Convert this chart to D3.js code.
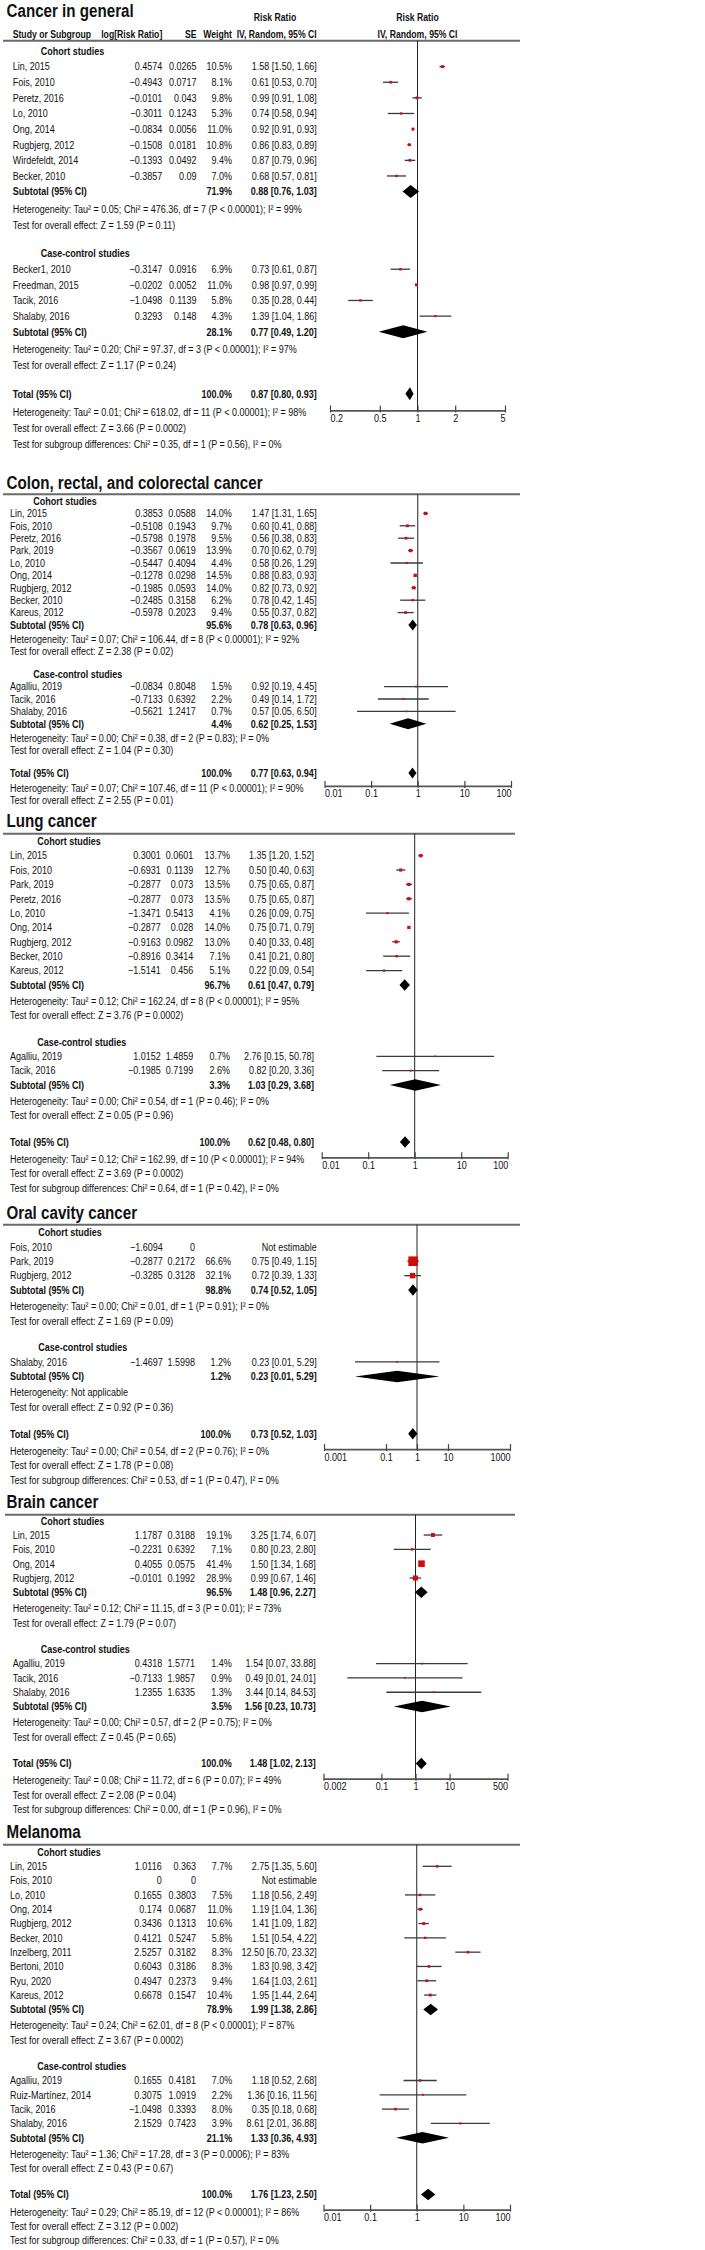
<!DOCTYPE html>
<html><head><meta charset="utf-8">
<script src="https://cdn.jsdelivr.net/npm/d3@7"></script>
<style>body{margin:0;background:#fff} svg{display:block}</style>
</head><body>
<svg id="chart" width="705" height="2250"></svg>
<script>
// ================= DATA =================
// rows: [study, logRR, SE, weight%, RR, lower, upper]
const generalCohort = [
  ["Lin, 2015", 0.4574, 0.0265, 10.5, 1.58, 1.50, 1.66],
  ["Fois, 2010", -0.4943, 0.0717, 8.1, 0.61, 0.53, 0.70],
  ["Peretz, 2016", -0.0101, 0.043, 9.8, 0.99, 0.91, 1.08],
  ["Lo, 2010", -0.3011, 0.1243, 5.3, 0.74, 0.58, 0.94],
  ["Ong, 2014", -0.0834, 0.0056, 11.0, 0.92, 0.91, 0.93],
  ["Rugbjerg, 2012", -0.1508, 0.0181, 10.8, 0.86, 0.83, 0.89],
  ["Wirdefeldt, 2014", -0.1393, 0.0492, 9.4, 0.87, 0.79, 0.96],
  ["Becker, 2010", -0.3857, 0.09, 7.0, 0.68, 0.57, 0.81]
];
const generalCohortSubtotal = [71.9, 0.88, 0.76, 1.03];
const generalCohortStats = ["Heterogeneity: Tau² = 0.05; Chi² = 476.36, df = 7 (P < 0.00001); I² = 99%", "Test for overall effect: Z = 1.59 (P = 0.11)"];
const generalCase = [
  ["Becker1, 2010", -0.3147, 0.0916, 6.9, 0.73, 0.61, 0.87],
  ["Freedman, 2015", -0.0202, 0.0052, 11.0, 0.98, 0.97, 0.99],
  ["Tacik, 2016", -1.0498, 0.1139, 5.8, 0.35, 0.28, 0.44],
  ["Shalaby, 2016", 0.3293, 0.148, 4.3, 1.39, 1.04, 1.86]
];
const generalCaseSubtotal = [28.1, 0.77, 0.49, 1.20];
const generalCaseStats = ["Heterogeneity: Tau² = 0.20; Chi² = 97.37, df = 3 (P < 0.00001); I² = 97%", "Test for overall effect: Z = 1.17 (P = 0.24)"];
const generalTotal = [100.0, 0.87, 0.80, 0.93];
const generalTotalStats = ["Heterogeneity: Tau² = 0.01; Chi² = 618.02, df = 11 (P < 0.00001); I² = 98%", "Test for overall effect: Z = 3.66 (P = 0.0002)", "Test for subgroup differences: Chi² = 0.35, df = 1 (P = 0.56), I² = 0%"];
const generalTicks = [0.2, 0.5, 1, 2, 5];

const colonCohort = [
  ["Lin, 2015", 0.3853, 0.0588, 14.0, 1.47, 1.31, 1.65],
  ["Fois, 2010", -0.5108, 0.1943, 9.7, 0.60, 0.41, 0.88],
  ["Peretz, 2016", -0.5798, 0.1978, 9.5, 0.56, 0.38, 0.83],
  ["Park, 2019", -0.3567, 0.0619, 13.9, 0.70, 0.62, 0.79],
  ["Lo, 2010", -0.5447, 0.4094, 4.4, 0.58, 0.26, 1.29],
  ["Ong, 2014", -0.1278, 0.0298, 14.5, 0.88, 0.83, 0.93],
  ["Rugbjerg, 2012", -0.1985, 0.0593, 14.0, 0.82, 0.73, 0.92],
  ["Becker, 2010", -0.2485, 0.3158, 6.2, 0.78, 0.42, 1.45],
  ["Kareus, 2012", -0.5978, 0.2023, 9.4, 0.55, 0.37, 0.82]
];
const colonCohortSubtotal = [95.6, 0.78, 0.63, 0.96];
const colonCohortStats = ["Heterogeneity: Tau² = 0.07; Chi² = 106.44, df = 8 (P < 0.00001); I² = 92%", "Test for overall effect: Z = 2.38 (P = 0.02)"];
const colonCase = [
  ["Agalliu, 2019", -0.0834, 0.8048, 1.5, 0.92, 0.19, 4.45],
  ["Tacik, 2016", -0.7133, 0.6392, 2.2, 0.49, 0.14, 1.72],
  ["Shalaby, 2016", -0.5621, 1.2417, 0.7, 0.57, 0.05, 6.50]
];
const colonCaseSubtotal = [4.4, 0.62, 0.25, 1.53];
const colonCaseStats = ["Heterogeneity: Tau² = 0.00; Chi² = 0.38, df = 2 (P = 0.83); I² = 0%", "Test for overall effect: Z = 1.04 (P = 0.30)"];
const colonTotal = [100.0, 0.77, 0.63, 0.94];
const colonTotalStats = ["Heterogeneity: Tau² = 0.07; Chi² = 107.46, df = 11 (P < 0.00001); I² = 90%", "Test for overall effect: Z = 2.55 (P = 0.01)"];
const colonTicks = [0.01, 0.1, 1, 10, 100];

const lungCohort = [
  ["Lin, 2015", 0.3001, 0.0601, 13.7, 1.35, 1.20, 1.52],
  ["Fois, 2010", -0.6931, 0.1139, 12.7, 0.50, 0.40, 0.63],
  ["Park, 2019", -0.2877, 0.073, 13.5, 0.75, 0.65, 0.87],
  ["Peretz, 2016", -0.2877, 0.073, 13.5, 0.75, 0.65, 0.87],
  ["Lo, 2010", -1.3471, 0.5413, 4.1, 0.26, 0.09, 0.75],
  ["Ong, 2014", -0.2877, 0.028, 14.0, 0.75, 0.71, 0.79],
  ["Rugbjerg, 2012", -0.9163, 0.0982, 13.0, 0.40, 0.33, 0.48],
  ["Becker, 2010", -0.8916, 0.3414, 7.1, 0.41, 0.21, 0.80],
  ["Kareus, 2012", -1.5141, 0.456, 5.1, 0.22, 0.09, 0.54]
];
const lungCohortSubtotal = [96.7, 0.61, 0.47, 0.79];
const lungCohortStats = ["Heterogeneity: Tau² = 0.12; Chi² = 162.24, df = 8 (P < 0.00001); I² = 95%", "Test for overall effect: Z = 3.76 (P = 0.0002)"];
const lungCase = [
  ["Agalliu, 2019", 1.0152, 1.4859, 0.7, 2.76, 0.15, 50.78],
  ["Tacik, 2016", -0.1985, 0.7199, 2.6, 0.82, 0.20, 3.36]
];
const lungCaseSubtotal = [3.3, 1.03, 0.29, 3.68];
const lungCaseStats = ["Heterogeneity: Tau² = 0.00; Chi² = 0.54, df = 1 (P = 0.46); I² = 0%", "Test for overall effect: Z = 0.05 (P = 0.96)"];
const lungTotal = [100.0, 0.62, 0.48, 0.80];
const lungTotalStats = ["Heterogeneity: Tau² = 0.12; Chi² = 162.99, df = 10 (P < 0.00001); I² = 94%", "Test for overall effect: Z = 3.69 (P = 0.0002)", "Test for subgroup differences: Chi² = 0.64, df = 1 (P = 0.42), I² = 0%"];
const lungTicks = [0.01, 0.1, 1, 10, 100];

const oralCohort = [
  ["Fois, 2010", -1.6094, 0, null, null, null, null],
  ["Park, 2019", -0.2877, 0.2172, 66.6, 0.75, 0.49, 1.15],
  ["Rugbjerg, 2012", -0.3285, 0.3128, 32.1, 0.72, 0.39, 1.33]
];
const oralCohortSubtotal = [98.8, 0.74, 0.52, 1.05];
const oralCohortStats = ["Heterogeneity: Tau² = 0.00; Chi² = 0.01, df = 1 (P = 0.91); I² = 0%", "Test for overall effect: Z = 1.69 (P = 0.09)"];
const oralCase = [
  ["Shalaby, 2016", -1.4697, 1.5998, 1.2, 0.23, 0.01, 5.29]
];
const oralCaseSubtotal = [1.2, 0.23, 0.01, 5.29];
const oralCaseStats = ["Heterogeneity: Not applicable", "Test for overall effect: Z = 0.92 (P = 0.36)"];
const oralTotal = [100.0, 0.73, 0.52, 1.03];
const oralTotalStats = ["Heterogeneity: Tau² = 0.00; Chi² = 0.54, df = 2 (P = 0.76); I² = 0%", "Test for overall effect: Z = 1.78 (P = 0.08)", "Test for subgroup differences: Chi² = 0.53, df = 1 (P = 0.47), I² = 0%"];
const oralTicks = [0.001, 0.1, 1, 10, 1000];

const brainCohort = [
  ["Lin, 2015", 1.1787, 0.3188, 19.1, 3.25, 1.74, 6.07],
  ["Fois, 2010", -0.2231, 0.6392, 7.1, 0.80, 0.23, 2.80],
  ["Ong, 2014", 0.4055, 0.0575, 41.4, 1.50, 1.34, 1.68],
  ["Rugbjerg, 2012", -0.0101, 0.1992, 28.9, 0.99, 0.67, 1.46]
];
const brainCohortSubtotal = [96.5, 1.48, 0.96, 2.27];
const brainCohortStats = ["Heterogeneity: Tau² = 0.12; Chi² = 11.15, df = 3 (P = 0.01); I² = 73%", "Test for overall effect: Z = 1.79 (P = 0.07)"];
const brainCase = [
  ["Agalliu, 2019", 0.4318, 1.5771, 1.4, 1.54, 0.07, 33.88],
  ["Tacik, 2016", -0.7133, 1.9857, 0.9, 0.49, 0.01, 24.01],
  ["Shalaby, 2016", 1.2355, 1.6335, 1.3, 3.44, 0.14, 84.53]
];
const brainCaseSubtotal = [3.5, 1.56, 0.23, 10.73];
const brainCaseStats = ["Heterogeneity: Tau² = 0.00; Chi² = 0.57, df = 2 (P = 0.75); I² = 0%", "Test for overall effect: Z = 0.45 (P = 0.65)"];
const brainTotal = [100.0, 1.48, 1.02, 2.13];
const brainTotalStats = ["Heterogeneity: Tau² = 0.08; Chi² = 11.72, df = 6 (P = 0.07); I² = 49%", "Test for overall effect: Z = 2.08 (P = 0.04)", "Test for subgroup differences: Chi² = 0.00, df = 1 (P = 0.96), I² = 0%"];
const brainTicks = [0.002, 0.1, 1, 10, 500];

const melanomaCohort = [
  ["Lin, 2015", 1.0116, 0.363, 7.7, 2.75, 1.35, 5.60],
  ["Fois, 2010", 0, 0, null, null, null, null],
  ["Lo, 2010", 0.1655, 0.3803, 7.5, 1.18, 0.56, 2.49],
  ["Ong, 2014", 0.174, 0.0687, 11.0, 1.19, 1.04, 1.36],
  ["Rugbjerg, 2012", 0.3436, 0.1313, 10.6, 1.41, 1.09, 1.82],
  ["Becker, 2010", 0.4121, 0.5247, 5.8, 1.51, 0.54, 4.22],
  ["Inzelberg, 2011", 2.5257, 0.3182, 8.3, 12.50, 6.70, 23.32],
  ["Bertoni, 2010", 0.6043, 0.3186, 8.3, 1.83, 0.98, 3.42],
  ["Ryu, 2020", 0.4947, 0.2373, 9.4, 1.64, 1.03, 2.61],
  ["Kareus, 2012", 0.6678, 0.1547, 10.4, 1.95, 1.44, 2.64]
];
const melanomaCohortSubtotal = [78.9, 1.99, 1.38, 2.86];
const melanomaCohortStats = ["Heterogeneity: Tau² = 0.24; Chi² = 62.01, df = 8 (P < 0.00001); I² = 87%", "Test for overall effect: Z = 3.67 (P = 0.0002)"];
const melanomaCase = [
  ["Agalliu, 2019", 0.1655, 0.4181, 7.0, 1.18, 0.52, 2.68],
  ["Ruiz-Martínez, 2014", 0.3075, 1.0919, 2.2, 1.36, 0.16, 11.56],
  ["Tacik, 2016", -1.0498, 0.3393, 8.0, 0.35, 0.18, 0.68],
  ["Shalaby, 2016", 2.1529, 0.7423, 3.9, 8.61, 2.01, 36.88]
];
const melanomaCaseSubtotal = [21.1, 1.33, 0.36, 4.93];
const melanomaCaseStats = ["Heterogeneity: Tau² = 1.36; Chi² = 17.28, df = 3 (P = 0.0006); I² = 83%", "Test for overall effect: Z = 0.43 (P = 0.67)"];
const melanomaTotal = [100.0, 1.76, 1.23, 2.50];
const melanomaTotalStats = ["Heterogeneity: Tau² = 0.29; Chi² = 85.19, df = 12 (P < 0.00001); I² = 86%", "Test for overall effect: Z = 3.12 (P = 0.002)", "Test for subgroup differences: Chi² = 0.33, df = 1 (P = 0.57), I² = 0%"];
const melanomaTicks = [0.01, 0.1, 1, 10, 100];

const headerLabels = ["Study or Subgroup", "log[Risk Ratio]", "SE", "Weight", "IV, Random, 95% CI"];
const groupLabels = ["Cohort studies", "Case-control studies"];

// ================= LAYOUT =================
const panels = [
  { title: "Cancer in general", groups: [[generalCohort, generalCohortSubtotal, generalCohortStats], [generalCase, generalCaseSubtotal, generalCaseStats]],
    total: generalTotal, totalStats: generalTotalStats, ticks: generalTicks,
    L: { header: true, titleY: 17.3, ruleY: 40.7, ruleX: [3, 520], firstY: 51, lastY: 443.7, xr: [330, 505], nameX: 12.7, labelX: 40.7, cols: [162.3, 196.5, 232, 316.7], dh: 13 } },
  { title: "Colon, rectal, and colorectal cancer", groups: [[colonCohort, colonCohortSubtotal, colonCohortStats], [colonCase, colonCaseSubtotal, colonCaseStats]],
    total: colonTotal, totalStats: colonTotalStats, ticks: colonTicks,
    L: { titleY: 488.5, ruleY: 494.3, ruleX: [3, 520], firstY: 501, lastY: 800.3, xr: [324.5, 511], nameX: 10, labelX: 33.3, cols: [162.7, 195.7, 231.7, 316.7], dh: 11 } },
  { title: "Lung cancer", groups: [[lungCohort, lungCohortSubtotal, lungCohortStats], [lungCase, lungCaseSubtotal, lungCaseStats]],
    total: lungTotal, totalStats: lungTotalStats, ticks: lungTicks,
    L: { titleY: 826.5, ruleY: 833.7, ruleX: [3, 515], firstY: 841.3, lastY: 1188, xr: [321.7, 507.7], nameX: 10, labelX: 37.3, cols: [160.7, 193.3, 230, 314], dh: 11.5 } },
  { title: "Oral cavity cancer", groups: [[oralCohort, oralCohortSubtotal, oralCohortStats], [oralCase, oralCaseSubtotal, oralCaseStats]],
    total: oralTotal, totalStats: oralTotalStats, ticks: oralTicks,
    L: { titleY: 1218.5, ruleY: 1224.7, ruleX: [3, 520], firstY: 1232.3, lastY: 1480, xr: [324, 510], nameX: 10, labelX: 38.3, cols: [162.7, 195, 231, 316.7], dh: 11.5 } },
  { title: "Brain cancer", groups: [[brainCohort, brainCohortSubtotal, brainCohortStats], [brainCase, brainCaseSubtotal, brainCaseStats]],
    total: brainTotal, totalStats: brainTotalStats, ticks: brainTicks,
    L: { titleY: 1507.5, ruleY: 1514.7, ruleX: [5, 515], firstY: 1520.7, lastY: 1809.3, xr: [323.5, 507.5], nameX: 12.7, labelX: 40.7, cols: [162.3, 195, 231.7, 315.7], dh: 11.5 } },
  { title: "Melanoma", groups: [[melanomaCohort, melanomaCohortSubtotal, melanomaCohortStats], [melanomaCase, melanomaCaseSubtotal, melanomaCaseStats]],
    total: melanomaTotal, totalStats: melanomaTotalStats, ticks: melanomaTicks,
    L: { titleY: 1838, ruleY: 1844.7, ruleX: [3, 520], firstY: 1852, lastY: 2240.3, xr: [323.5, 510], nameX: 10, labelX: 37.3, cols: [161.7, 196, 232.3, 316.7], dh: 11.5 } }
];

// ================= STYLE =================
const FONT = "'Liberation Sans', Arial, sans-serif";
const BODY = 10.6, HEAD = 10.2, TITLE = 18.5;
const SX = 0.85, SX_TITLE = 0.82;   // horizontal condensing to mimic a narrow face
const RED = "#d10a0a", INK = "#111";

const svg = d3.select("#chart");
svg.append("rect").attr("width", 705).attr("height", 2250).attr("fill", "#fff");

const sizeScale = d3.scaleLinear().domain([0, 100]).range([1.6, 13.6]);
const fmtNum = v => String(v).replace("-", "\u2212");
const fmtRR = (e, l, h) => `${e.toFixed(2)} [${l.toFixed(2)}, ${h.toFixed(2)}]`;

function txt(g, x, y, s, opt = {}) {
  const sx = opt.sx || SX;
  return g.append("text")
    .attr("transform", `translate(${x},${y}) scale(${sx},1)`)
    .attr("x", 0).attr("y", 0).attr("dy", opt.dy ?? "0.36em")
    .attr("text-anchor", opt.anchor || "start")
    .attr("font-family", FONT).attr("font-size", opt.size || BODY)
    .attr("font-weight", opt.bold ? "bold" : "normal")
    .attr("fill", INK).text(s);
}

panels.forEach(p => {
  const L = p.L;
  const g = svg.append("g");
  const items = []; let u = 0;
  p.groups.forEach((grp, gi) => {
    if (gi > 0) u += 1.85;
    items.push({ type: "label", u, text: groupLabels[gi] });
    grp[0].forEach(r => { u += 1; items.push({ type: "study", u, r }); });
    u += 1; items.push({ type: "sub", u, d: grp[1] });
    u += 1.12; items.push({ type: "stat", u, text: grp[2][0] });
    u += 1; items.push({ type: "stat", u, text: grp[2][1] });
  });
  u += 1.85; items.push({ type: "total", u, d: p.total });
  u += 1.2; const hetU = u; items.push({ type: "stat", u, text: p.totalStats[0] });
  for (let i = 1; i < p.totalStats.length; i++) { u += 1; items.push({ type: "stat", u, text: p.totalStats[i] }); }

  const y = d3.scaleLinear().domain([0, u]).range([L.firstY, L.lastY]);
  const x = d3.scaleLog().domain([p.ticks[0], p.ticks[p.ticks.length - 1]]).range(L.xr);
  const axisY = y(hetU) - 2;

  txt(g, 6.5, L.titleY, p.title, { size: TITLE, bold: true, dy: 0, sx: SX_TITLE });
  if (L.header) {
    txt(g, 275, 17, "Risk Ratio", { size: HEAD, bold: true, anchor: "middle" });
    txt(g, x(1), 17, "Risk Ratio", { size: HEAD, bold: true, anchor: "middle" });
    txt(g, L.nameX, 34, headerLabels[0], { size: HEAD, bold: true });
    txt(g, L.cols[0], 34, headerLabels[1], { size: HEAD, bold: true, anchor: "end" });
    txt(g, L.cols[1], 34, headerLabels[2], { size: HEAD, bold: true, anchor: "end" });
    txt(g, L.cols[2], 34, headerLabels[3], { size: HEAD, bold: true, anchor: "end" });
    txt(g, L.cols[3], 34, headerLabels[4], { size: HEAD, bold: true, anchor: "end" });
    txt(g, x(1), 34, headerLabels[4], { size: HEAD, bold: true, anchor: "middle" });
  }
  g.append("line").attr("x1", L.ruleX[0]).attr("x2", L.ruleX[1]).attr("y1", L.ruleY).attr("y2", L.ruleY)
    .attr("stroke", "#6a6a6a").attr("stroke-width", 2);
  g.append("line").attr("x1", x(1)).attr("x2", x(1)).attr("y1", L.ruleY).attr("y2", axisY)
    .attr("stroke", "#222").attr("stroke-width", 1);

  items.forEach(it => {
    const yy = y(it.u);
    if (it.type === "label") {
      txt(g, L.labelX, yy, it.text, { bold: true });
    } else if (it.type === "study") {
      const [name, lr, se, w, est, lo, hi] = it.r;
      txt(g, L.nameX, yy, name);
      txt(g, L.cols[0], yy, fmtNum(lr), { anchor: "end" });
      txt(g, L.cols[1], yy, fmtNum(se), { anchor: "end" });
      if (w == null) {
        txt(g, L.cols[3], yy, "Not estimable", { anchor: "end" });
      } else {
        txt(g, L.cols[2], yy, w.toFixed(1) + "%", { anchor: "end" });
        txt(g, L.cols[3], yy, fmtRR(est, lo, hi), { anchor: "end" });
        g.append("line").attr("x1", x(lo)).attr("x2", x(hi)).attr("y1", yy).attr("y2", yy)
          .attr("stroke", "#3a3a3a").attr("stroke-width", 1.3);
        const s = sizeScale(w);
        g.append("rect").attr("x", x(est) - s / 2).attr("y", yy - s / 2).attr("width", s).attr("height", s)
          .attr("fill", RED);
      }
    } else if (it.type === "sub" || it.type === "total") {
      const [w, est, lo, hi] = it.d;
      txt(g, L.nameX, yy, it.type === "sub" ? "Subtotal (95% CI)" : "Total (95% CI)", { bold: true });
      txt(g, L.cols[2], yy, w.toFixed(1) + "%", { anchor: "end", bold: true });
      txt(g, L.cols[3], yy, fmtRR(est, lo, hi), { anchor: "end", bold: true });
      const h = L.dh / 2;
      g.append("path").attr("d", `M${x(lo)},${yy}L${x(est)},${yy - h}L${x(hi)},${yy}L${x(est)},${yy + h}Z`)
        .attr("fill", "#000");
    } else {
      txt(g, L.nameX, yy, it.text);
    }
  });

  const ax = g.append("g").attr("transform", `translate(0,${axisY})`)
    .call(d3.axisBottom(x).tickValues(p.ticks).tickFormat(d => String(d)).tickSizeOuter(0).tickSizeInner(3));
  ax.select(".domain").attr("stroke", "#555").attr("stroke-width", 1.8);
  ax.selectAll(".tick line").attr("y1", -5).attr("y2", 2).attr("stroke", "#444").attr("stroke-width", 1.2);
  ax.selectAll(".tick text").attr("y", 4).attr("dy", "0.71em")
    .attr("transform", `scale(${SX},1)`)
    .attr("font-family", FONT).attr("font-size", BODY).attr("fill", INK)
    .attr("text-anchor", (d, i) => i === 0 ? "start" : (i === p.ticks.length - 1 ? "end" : "middle"));
});
</script>
</body></html>
